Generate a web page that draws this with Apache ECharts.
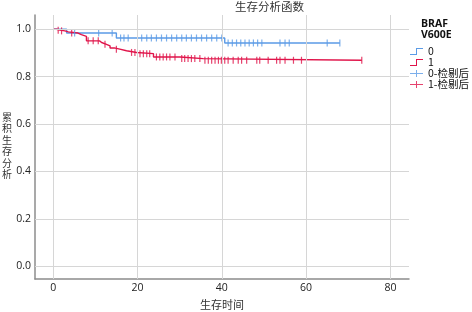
<!DOCTYPE html>
<html><head><meta charset="utf-8">
<script src="https://cdn.jsdelivr.net/npm/echarts@6/dist/echarts.min.js"></script>
<style>html,body{margin:0;padding:0;background:#fff}#c{width:472px;height:312px}</style>
</head><body><div id="c"></div>
<script>
// Kaplan-Meier step points (time, survival)
var blueStepTimes = [0, 3.2, 15.0, 40.7, 68.0];
var blueStepValues = [1.0, 0.984, 0.963, 0.942, 0.942];
var blueCensorTimes = [5.1, 10.8, 14.0, 16.0, 16.8, 17.8, 21.0, 22.2, 23.3, 24.5, 25.7, 26.9, 28.1, 29.3, 30.5, 31.6, 32.8, 34.0, 35.2, 36.4, 37.6, 38.8, 40.0, 41.5, 42.5, 43.5, 44.5, 45.5, 46.5, 47.5, 48.5, 49.5, 53.8, 55.0, 56.0, 65.0, 68.0];

var redStepTimes = [0, 0.8, 1.6, 2.8, 3.6, 5.9, 6.7, 7.9, 11.0, 11.5, 12.5, 13.5, 14.5, 15.8, 17.4, 19.8, 23.8, 30.1, 35.6, 73.2];
var redStepValues = [1.0, 0.996, 0.993, 0.989, 0.984, 0.977, 0.970, 0.951, 0.944, 0.937, 0.930, 0.921, 0.916, 0.909, 0.902, 0.897, 0.883, 0.876, 0.869, 0.869];
var redCensorTimes = [1.2, 2.0, 4.4, 8.3, 9.5, 10.7, 12.3, 15.0, 18.6, 19.4, 20.6, 21.4, 22.2, 22.9, 24.5, 25.3, 26.1, 26.9, 27.7, 28.9, 30.5, 31.2, 32.0, 32.8, 33.6, 34.8, 36.0, 36.8, 37.6, 38.4, 39.2, 39.9, 40.7, 41.5, 42.7, 43.9, 44.7, 45.9, 48.3, 49.0, 51.0, 53.0, 53.8, 55.0, 57.0, 58.9, 73.2];

var xTicks = [0, 20, 40, 60, 80];
var yTicks = [0, 0.2, 0.4, 0.6, 0.8, 1.0];
var legendNames = ['0', '1', '0-检剔后', '1-检剔后'];
var titleText = '生存分析函数';
var legendTitle = 'BRAF\nV600E';
var xName = '生存时间';
var yName = '累积生存分析';

function pairs(t, v) { return t.map(function (x, i) { return [x, v[i]]; }); }
function survAt(t, v, x) { var s = v[0]; for (var i = 0; i < t.length; i++) { if (t[i] <= x) s = v[i]; } return s; }
function censor(ct, t, v) { return ct.map(function (x) { return [x, survAt(t, v, x)]; }); }

var BLUE = '#5b9be6', RED = '#e0144a';
var cjk = '"Noto Sans CJK SC", "Noto Sans", sans-serif';
var stepIcon = 'path://M0,6 L6,6 L6,0 L13,0 L13,1 L7,1 L7,7 L0,7 Z';
var crossIcon = 'path://M0,3 L13,3 L13,4 L0,4 Z M6,0 L7,0 L7,7 L6,7 Z';
var tickSym = 'path://M0,0 L1,0 L1,10 L0,10 Z';

var chart = echarts.init(document.getElementById('c'), null, {renderer: 'canvas'});
chart.setOption({
  animation: false,
  backgroundColor: '#fff',
  title: [
    {text: titleText, left: 235, top: 1, padding: 0, textStyle: {fontFamily: cjk, fontSize: 11.5, fontWeight: 'normal', color: '#333'}},
    {text: legendTitle, left: 421, top: 19, padding: 0, textStyle: {fontFamily: '"Open Sans", "Noto Sans", sans-serif', fontSize: 10.5, fontWeight: 'bold', color: '#111', lineHeight: 11}},
    {text: yName.split('').join('\n'), left: 2, top: 111, padding: 0, textStyle: {fontFamily: cjk, fontSize: 10, fontWeight: 'normal', color: '#333', lineHeight: 11.5}}
  ],
  legend: {
    orient: 'vertical', left: 410, top: 46, padding: 0, itemGap: 0, itemWidth: 13, itemHeight: 7,
    textStyle: {fontFamily: cjk, fontSize: 10.5, color: '#111', lineHeight: 11},
    data: [
      {name: legendNames[0], icon: stepIcon},
      {name: legendNames[1], icon: stepIcon},
      {name: legendNames[2], icon: crossIcon},
      {name: legendNames[3], icon: crossIcon}
    ]
  },
  grid: {left: 35, right: 63, top: 15, bottom: 33, outerBoundsMode: 'none', containLabel: false},
  xAxis: {
    type: 'value', min: -4.3, max: 84.4,
    name: xName, nameLocation: 'middle', nameGap: 20,
    nameTextStyle: {fontFamily: cjk, fontSize: 11, color: '#333'},
    axisLine: {onZero: false, lineStyle: {color: '#8c8c8c', width: 1.5}},
    axisTick: {show: false}, splitLine: {show: false},
    axisLabel: {margin: 4, fontFamily: '"Open Sans", "Noto Sans", sans-serif', fontSize: 10.5, color: '#222',
      formatter: function (v) { var r = Math.round(v / 20) * 20; return Math.abs(v - r) < 1e-6 ? String(r) : ''; }}
  },
  yAxis: {
    type: 'value', min: -0.054, max: 1.06,
    axisLine: {onZero: false, lineStyle: {color: '#8c8c8c', width: 1.5}},
    axisTick: {show: false}, splitLine: {show: false},
    axisLabel: {margin: 4, fontFamily: '"Open Sans", "Noto Sans", sans-serif', fontSize: 10.5, color: '#222',
      formatter: function (v) { var r = Math.round(v / 0.2) * 0.2; return (Math.abs(v - r) < 1e-6 && r > -1e-6) ? r.toFixed(1) : ''; }}
  },
  series: [
    {
      type: 'line', name: '__grid', data: [[0, 0]], showSymbol: false, symbol: 'none',
      lineStyle: {width: 0}, z: 0, silent: true,
      markLine: {
        silent: true, symbol: ['none', 'none'], label: {show: false},
        lineStyle: {color: '#d6d6d6', width: 1, type: 'solid'},
        emphasis: {disabled: true},
        data: xTicks.map(function (x) { return {xAxis: x}; }).concat(yTicks.map(function (y) { return {yAxis: y}; }))
      }
    },
    {type: 'line', name: legendNames[0], step: 'end', data: pairs(blueStepTimes, blueStepValues), showSymbol: false, symbol: 'none', color: BLUE, lineStyle: {width: 1.4, color: BLUE}, z: 3},
    {type: 'line', name: legendNames[1], step: 'end', data: pairs(redStepTimes, redStepValues), showSymbol: false, symbol: 'none', color: RED, lineStyle: {width: 1.4, color: RED}, z: 3},
    {type: 'scatter', name: legendNames[2], data: censor(blueCensorTimes, blueStepTimes, blueStepValues), symbol: tickSym, symbolSize: [1.2, 7], color: BLUE, itemStyle: {color: BLUE}, z: 4},
    {type: 'scatter', name: legendNames[3], data: censor(redCensorTimes, redStepTimes, redStepValues), symbol: tickSym, symbolSize: [1.2, 7], color: RED, itemStyle: {color: RED}, z: 4}
  ]
});
</script></body></html>
